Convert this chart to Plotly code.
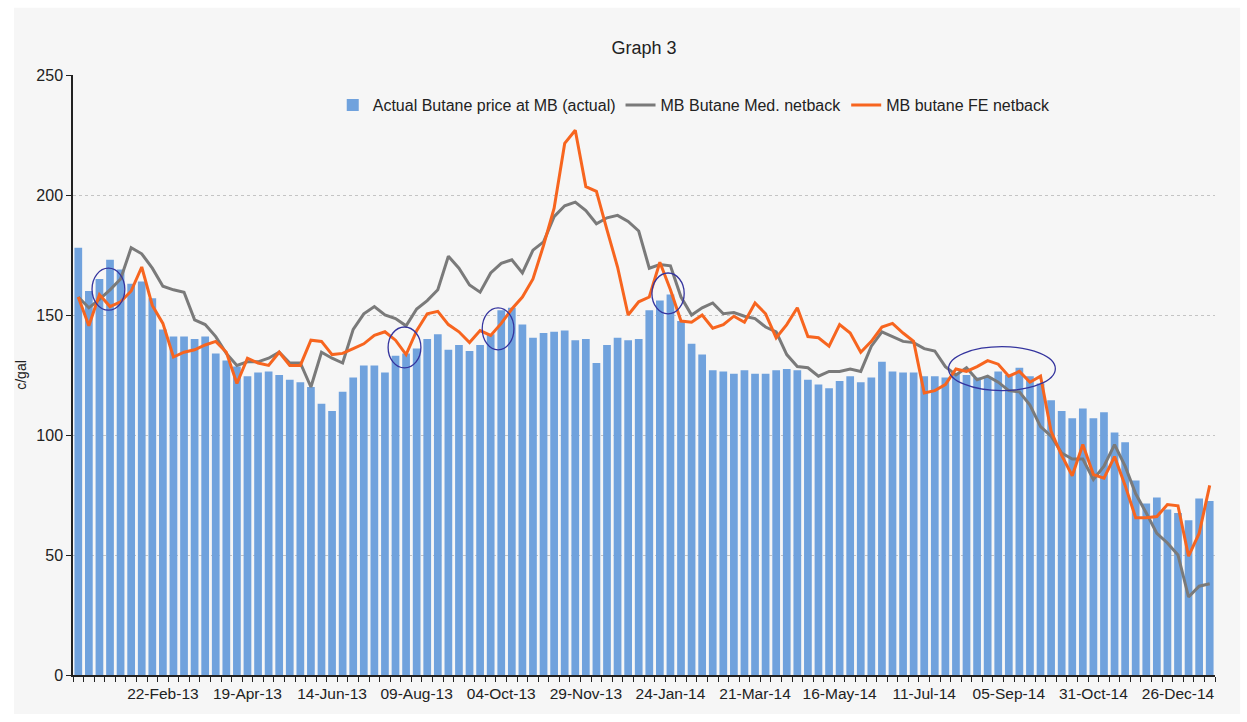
import pandas as pd
import plotly.graph_objects as go

# ---------------- data ----------------
start_week = "2012-12-28"
n_weeks = 108

actual_butane = [
    178, 160, 165, 173, 169, 163, 164, 157, 144, 141,
    141, 140, 141, 134, 131, 128.5, 124.5, 126, 126.5, 125,
    123, 122, 120, 113, 110, 118, 124, 129, 129, 126,
    133, 134, 136, 140, 142, 135.5, 137.5, 135, 137.5, 142,
    152, 153, 146, 140.5, 142.5, 143, 143.5, 139.5, 140, 130,
    137.5, 140.5, 139.5, 140, 152, 156, 158.5, 147.5, 138, 133.5,
    127, 126.5, 125.5, 127, 125.5, 125.5, 127, 127.5, 127, 123,
    121, 119.5, 122.5, 124.5, 122, 124, 130.5, 126.5, 126, 126,
    124.5, 124.5, 124, 125.5, 125, 124, 124, 126.5, 125, 128,
    124.5, 121.5, 114.5, 110, 107, 111, 107, 109.5, 101, 97,
    81, 71.5, 74, 69, 67.5, 64.5, 73.5, 72.5,
]

med_netback = [
    157.5, 153, 156.5, 160.5, 165, 178, 175.5, 169.5, 162, 160.5,
    159.5, 148, 146, 141, 134, 129, 130.5, 130.5, 132, 134.5,
    130, 130, 120, 134.5, 132, 130, 144, 150.5, 153.5, 150,
    148.5, 145.5, 152.5, 156, 160.5, 174.5, 169.5, 162.5, 159.5, 167.5,
    171.5, 173, 167.5, 177, 180.5, 191, 195.5, 197, 193.5, 188,
    190.5, 191.5, 189, 185, 169.5, 171, 170.5, 157.5, 150, 153,
    155, 150.5, 151, 149.5, 148.5, 145, 143, 133.5, 128.5, 128,
    124.5, 126.5, 126.5, 127.5, 126.5, 137, 143, 141, 139, 138.5,
    136, 135, 128.5, 125, 128, 123, 124.5, 122, 118.5, 118,
    112.5, 103.5, 99.5, 92.5, 90, 90, 81.5, 87, 96, 87,
    75.5, 67.5, 59, 55, 50, 32.5, 37, 38,
]

fe_netback = [
    157.5, 145.5, 158.5, 153.5, 155.5, 160, 170, 154, 146.5, 132.5,
    134.5, 135.5, 137.5, 139, 134.5, 121.5, 132, 130, 129, 134.5,
    129, 129, 139.5, 139, 133.5, 134, 136, 138, 141.5, 143,
    139.5, 133.5, 143.5, 150.5, 151.5, 146, 143, 138.5, 143.5, 141.5,
    146.5, 152.5, 157.5, 165, 179, 194.5, 221.5, 227, 203.5, 201.5,
    185.5, 170, 150, 155.5, 157.5, 172, 160.5, 147.5, 147, 150,
    144.5, 146, 149.5, 147, 155, 150.5, 140.5, 146, 153, 141,
    140.5, 137, 146, 142.5, 134.5, 139, 145, 146.5, 142.5, 139,
    117.5, 118.5, 121, 127.5, 126.5, 128.5, 131, 129.5, 124.5, 126.5,
    122, 124.5, 101.5, 91.5, 83, 96, 83.5, 82, 91, 79,
    65.5, 65.5, 66, 71, 70.5, 49.5, 59, 79,
]

tick_labels = [
    "22-Feb-13", "19-Apr-13", "14-Jun-13", "09-Aug-13", "04-Oct-13",
    "29-Nov-13", "24-Jan-14", "21-Mar-14", "16-May-14", "11-Jul-14",
    "05-Sep-14", "31-Oct-14", "26-Dec-14",
]

# highlighted regions (week-index span, value span)
highlight_regions = [
    (1.3, 4.4, 152, 169.5),
    (29.3, 32.4, 128, 145),
    (38.2, 41.2, 135.5, 153),
    (54.25, 57.3, 150.5, 167.5),
    (82.3, 92.4, 118.5, 136.8),
]

# ---------------- figure ----------------
weeks = pd.date_range(start_week, periods=n_weeks, freq="7D")
week0 = weeks[0]
DAY = 86400000
WEEK = 7 * DAY


def idx_to_date(i):
    return week0 + pd.Timedelta(days=7 * i)


tick_vals = [pd.to_datetime(t, format="%d-%b-%y") for t in tick_labels]

fig = go.Figure()
fig.add_trace(go.Bar(
    x=weeks, y=actual_butane, name="Actual Butane price at MB (actual)",
    marker=dict(color="#70a2dd", line=dict(width=0)), width=0.73 * WEEK,
))
fig.add_trace(go.Scatter(
    x=weeks, y=med_netback, name="MB Butane Med. netback", mode="lines",
    line=dict(color="#7a7a7a", width=3),
))
fig.add_trace(go.Scatter(
    x=weeks, y=fe_netback, name="MB butane FE netback", mode="lines",
    line=dict(color="#f7651f", width=3),
))

shapes = [
    dict(type="rect", xref="paper", yref="paper", x0=-0.0517, x1=1.022,
         y0=-0.065, y1=1.112, fillcolor="#f6f6f6", line=dict(width=0),
         layer="below"),
]
for (i0, i1, v0, v1) in highlight_regions:
    shapes.append(dict(
        type="circle", xref="x", yref="y",
        x0=idx_to_date(i0), x1=idx_to_date(i1), y0=v0, y1=v1,
        line=dict(color="#34349e", width=1.3), fillcolor="rgba(0,0,0,0)",
        layer="above",
    ))

font_family = "Liberation Sans, Arial, sans-serif"

fig.update_layout(
    width=1247, height=722,
    margin=dict(l=73, r=32, t=75, b=47),
    paper_bgcolor="white", plot_bgcolor="rgba(0,0,0,0)",
    font=dict(family=font_family, size=15, color="#222222"),
    title=dict(text="Graph 3", x=0.5, xref="paper", xanchor="center",
               y=0.934, yanchor="middle", font=dict(size=18, color="#222222")),
    bargap=0.27,
    showlegend=True,
    legend=dict(orientation="h", x=0.544, xanchor="center", y=0.95,
                yanchor="middle", bgcolor="rgba(0,0,0,0)",
                font=dict(size=16), traceorder="normal"),
    shapes=shapes,
)

fig.update_xaxes(
    type="date",
    range=[week0 - pd.Timedelta(hours=84), weeks[-1] + pd.Timedelta(hours=84)],
    tickvals=tick_vals, ticktext=tick_labels,
    ticks="", showgrid=False, zeroline=False,
    showline=True, linecolor="#222222", linewidth=1.5,
    tickfont=dict(size=15.5, color="#222222"),
    ticklabelstandoff=4,
    minor=dict(ticks="outside", ticklen=5, tickcolor="#222222", tickwidth=1,
               tick0=week0 - pd.Timedelta(hours=84), dtick=WEEK, showgrid=False),
)

fig.update_yaxes(
    range=[0, 250], tickvals=[0, 50, 100, 150, 200, 250],
    ticks="outside", ticklen=5, tickcolor="#222222",
    showline=True, linecolor="#222222", linewidth=1.5,
    showgrid=True, gridcolor="#c4c4c4", griddash="dot", gridwidth=1,
    zeroline=False,
    tickfont=dict(size=16, color="#222222"),
    title=dict(text="c/gal", font=dict(size=14, color="#222222"), standoff=6),
)

fig.write_html(
    "out.html",
    config={"displayModeBar": False},
    post_script="document.body.style.margin='0';document.body.style.padding='0';",
)
